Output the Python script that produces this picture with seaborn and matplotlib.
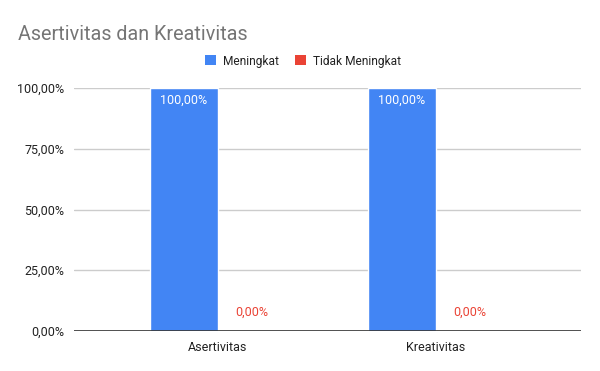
import pandas as pd
import seaborn as sns
import matplotlib.pyplot as plt
from matplotlib.patches import Patch

# Datos del grafico
kategori = ['Asertivitas', 'Kreativitas']
meningkat = [100.0, 100.0]
tidak_meningkat = [0.0, 0.0]
seri = ['Meningkat', 'Tidak Meningkat']
warna = ['#4285F4', '#EA4335']
yticks = [0, 25, 50, 75, 100]


def persen(v):
    return f'{v:.2f}'.replace('.', ',') + '%'


df = pd.DataFrame({
    'Kategori': kategori * 2,
    'Seri': [seri[0]] * 2 + [seri[1]] * 2,
    'Nilai': meningkat + tidak_meningkat,
})

sns.set_style('white')
plt.rcParams['font.family'] = ['Roboto', 'DejaVu Sans']

fig = plt.figure(figsize=(6, 3.71), dpi=100)
ax = fig.add_axes([74 / 600, 1 - 331 / 371, (581 - 74) / 600, (331 - 88) / 371])

sns.barplot(data=df, x='Kategori', y='Nilai', hue='Seri', palette=warna,
            width=0.624, saturation=1, ax=ax, legend=False, zorder=3)

ax.set_xlim(-0.66, 1.665)
ax.set_ylim(0, 100)
ax.set_yticks(yticks)
ax.set_yticklabels([persen(v) for v in yticks])
ax.grid(axis='y', color='#cccccc', linewidth=1, zorder=0)
ax.axhline(0, color='#333333', linewidth=1.2, zorder=4)
for s in ax.spines.values():
    s.set_visible(False)
ax.tick_params(axis='both', length=0, labelsize=9, colors='#222222', pad=7)
ax.set_xlabel('')
ax.set_ylabel('')

# Label nilai
warna_label = ['white', '#EA4335']
for cont, nilai, col in zip(ax.containers, [meningkat, tidak_meningkat], warna_label):
    for rect, v in zip(cont, nilai):
        cx = rect.get_x() + rect.get_width() / 2
        if v > 50:
            ax.text(cx, v - 2.5, persen(v), ha='center', va='top', color=col, fontsize=9, zorder=5)
        else:
            ax.text(cx, v + 5, persen(v), ha='center', va='bottom', color=col, fontsize=9, zorder=5)

fig.text(18 / 600, 1 - 35 / 371, 'Asertivitas dan Kreativitas',
         fontsize=14.2, color='#757575', ha='left', va='center')

handles = [Patch(facecolor=c, edgecolor='none') for c in warna]
fig.legend(handles, seri, loc='center', bbox_to_anchor=(303 / 600, 1 - 61 / 371), ncol=2,
           frameon=False, fontsize=8.6, handlelength=0.9, handleheight=0.9,
           handletextpad=0.6, columnspacing=1.4, labelcolor='#222222')

fig.savefig('out.png', dpi=100)
